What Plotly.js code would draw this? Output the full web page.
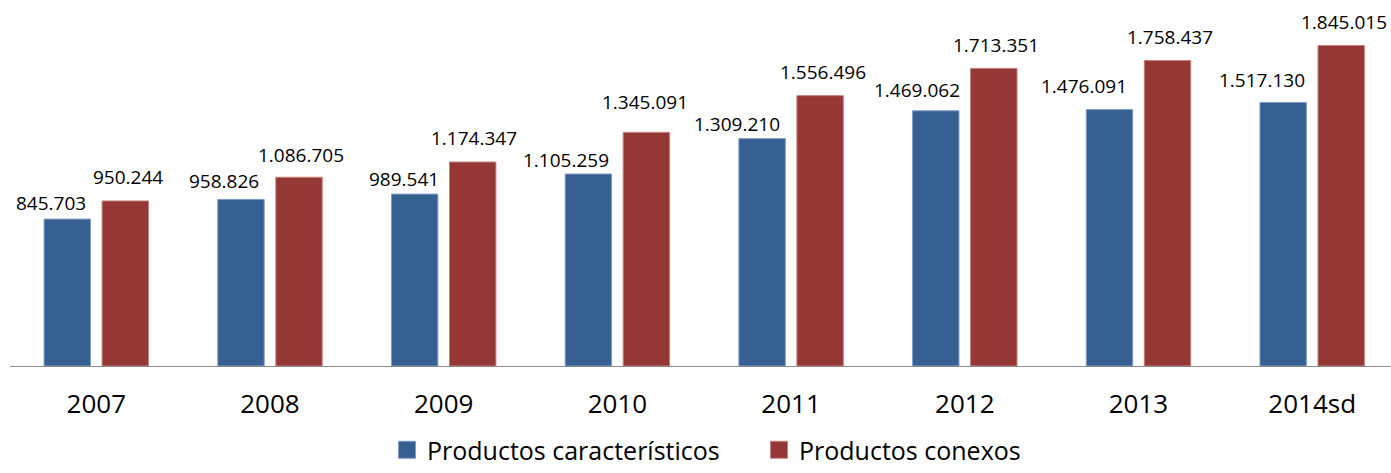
<!DOCTYPE html>
<html>
<head>
<meta charset="utf-8">
<script src="https://cdn.plot.ly/plotly-3.0.1.min.js"></script>
<style>
  html, body { margin: 0; padding: 0; background: #fff; }
  #chart { width: 1391px; height: 473px; }
</style>
</head>
<body>
<div id="chart"></div>
<script>
const categories = ['2007', '2008', '2009', '2010', '2011', '2012', '2013', '2014sd'];
const seriesNames = ['Productos característicos', 'Productos conexos'];
const caracteristicos = [845703, 958826, 989541, 1105259, 1309210, 1469062, 1476091, 1517130];
const conexos = [950244, 1086705, 1174347, 1345091, 1556496, 1713351, 1758437, 1845015];

// label styling offsets (pixels) to mimic the original label placement
const labelStyle = {
  blueDx: [-16.5, -16.6, -10.3, -22, -25, -19, -25, -20.7],
  blueUp: [15.7, 18, 15, 14.3, 15, 20.7, 24, 22.7],
  redDx: [2.7, 2, 1, -1, 2.7, 2, 2.8, 2.5],
  redUp: [24.3, 22.3, 24, 30.6, 24, 23.3, 24, 24],
  barOffset: 29
};

function fmt(v) {
  return String(v).replace(/\B(?=(\d{3})+(?!\d))/g, '.');
}

const blue = '#376092';
const red = '#953735';

const traces = [
  {
    type: 'bar', name: seriesNames[0], x: categories, y: caracteristicos,
    marker: { color: blue, line: { color: '#7f9cc4', width: 1 } },
    hoverinfo: 'skip'
  },
  {
    type: 'bar', name: seriesNames[1], x: categories, y: conexos,
    marker: { color: red, line: { color: '#c4817f', width: 1 } },
    hoverinfo: 'skip'
  }
];

const annotations = [];
categories.forEach((c, i) => {
  annotations.push({
    x: i, y: caracteristicos[i], xref: 'x', yref: 'y',
    text: fmt(caracteristicos[i]), showarrow: false,
    xanchor: 'center', yanchor: 'middle',
    xshift: -labelStyle.barOffset + labelStyle.blueDx[i], yshift: labelStyle.blueUp[i],
    font: { family: 'Open Sans', size: 19, color: '#000' }
  });
  annotations.push({
    x: i, y: conexos[i], xref: 'x', yref: 'y',
    text: fmt(conexos[i]), showarrow: false,
    xanchor: 'center', yanchor: 'middle',
    xshift: labelStyle.barOffset + labelStyle.redDx[i], yshift: labelStyle.redUp[i],
    font: { family: 'Open Sans', size: 19, color: '#000' }
  });
});

const layout = {
  width: 1391, height: 473,
  margin: { l: 10, r: 0, t: 0, b: 107, pad: 0, autoexpand: false },
  paper_bgcolor: '#fff', plot_bgcolor: '#fff',
  barmode: 'group', bargap: 0.332, bargroupgap: 0.2,
  showlegend: true,
  font: { family: 'Open Sans', color: '#000' },
  xaxis: {
    type: 'category', range: [-0.4968, 7.4537],
    showgrid: false, zeroline: false,
    showline: true, linecolor: '#8c8c8c', linewidth: 1,
    ticks: '', tickfont: { family: 'Open Sans', size: 26, color: '#000' },
    ticklabelstandoff: 15, fixedrange: true, automargin: false
  },
  yaxis: {
    range: [0, 2107000], visible: false, showgrid: false, zeroline: false, fixedrange: true
  },
  legend: {
    orientation: 'h', xref: 'container', yref: 'container',
    x: 387 / 1391, xanchor: 'left', y: 0, yanchor: 'bottom',
    entrywidth: 327,
    font: { family: 'Open Sans', size: 25, color: '#000' },
    bgcolor: 'rgba(0,0,0,0)', borderwidth: 0, traceorder: 'normal'
  },
  annotations: annotations
};

Plotly.newPlot('chart', traces, layout, { displayModeBar: false, staticPlot: true }).then(function (gd) {
  // enlarge legend swatches to match the original square markers
  gd.querySelectorAll('.legend .legendpoints path').forEach(function (p) {
    p.setAttribute('d', 'M8.5,8.5H-8.5V-8.5H8.5Z');
  });
});
</script>
</body>
</html>
